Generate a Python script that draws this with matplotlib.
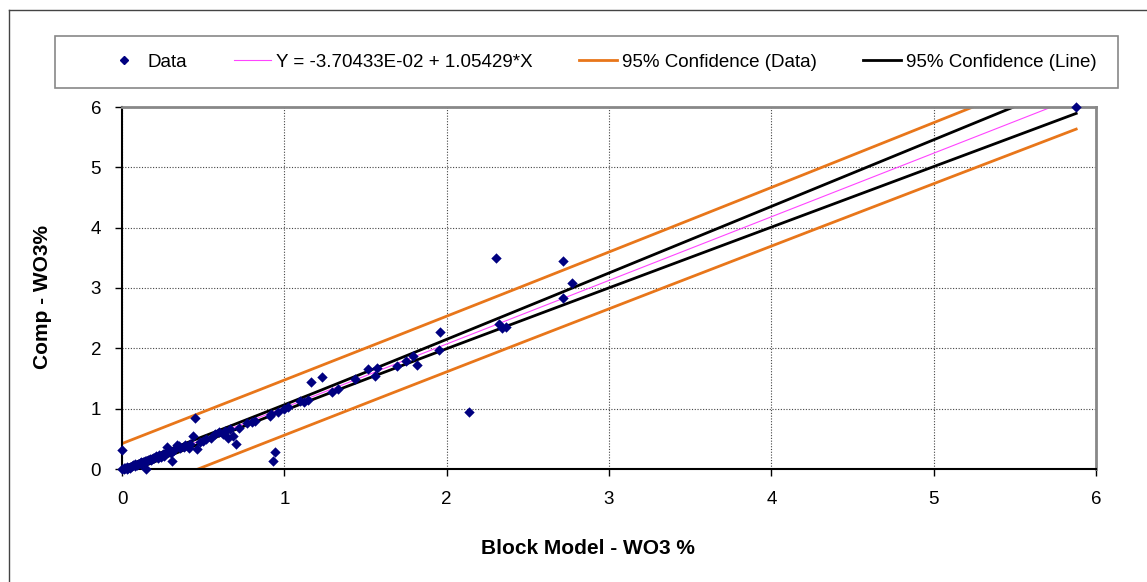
import numpy as np
import matplotlib.pyplot as plt
from matplotlib.lines import Line2D
from matplotlib.patches import Rectangle

plt.rcParams['font.family'] = ['Liberation Sans', 'DejaVu Sans']

# block model grade vs composite grade
block = [0.0, 0.0, 0.01, 0.01, 0.02, 0.03, 0.03, 0.04, 0.05, 0.05, 0.06, 0.07,
         0.08, 0.08, 0.09, 0.10, 0.11, 0.12, 0.12, 0.13, 0.14, 0.15, 0.15, 0.16,
         0.17, 0.18, 0.19, 0.20, 0.21, 0.22, 0.23, 0.24, 0.25, 0.26, 0.27, 0.28,
         0.29, 0.30, 0.31, 0.32, 0.34, 0.35, 0.36, 0.38, 0.39, 0.41, 0.42, 0.44,
         0.45, 0.46, 0.48, 0.50, 0.52,
         0.55, 0.57, 0.60, 0.62, 0.635, 0.655, 0.665, 0.686, 0.70, 0.72, 0.77,
         0.80, 0.82, 0.91, 0.92, 0.93, 0.943, 0.96, 1.0, 1.02,
         1.097, 1.12, 1.148, 1.165, 1.232, 1.292, 1.333, 1.437, 1.514, 1.569,
         1.56, 1.696, 1.748, 1.795, 1.82, 1.96, 1.953, 2.14, 2.306, 2.325,
         2.343, 2.368, 2.717, 2.717, 2.77, 5.878]
comp = [0.0, 0.31, 0.0, 0.02, 0.01, 0.0, 0.03, 0.02, 0.04, 0.01, 0.05, 0.06,
        0.05, 0.08, 0.07, 0.09, 0.10, 0.09, 0.12, 0.11, 0.13, 0.14, 0.0, 0.15,
        0.16, 0.15, 0.19, 0.18, 0.21, 0.19, 0.23, 0.20, 0.25, 0.22, 0.26, 0.36,
        0.30, 0.27, 0.13, 0.31, 0.40, 0.38, 0.35, 0.37, 0.39, 0.34, 0.41, 0.55,
        0.84, 0.33, 0.45, 0.47, 0.50,
        0.52, 0.575, 0.61, 0.58, 0.63, 0.51, 0.66, 0.55, 0.41, 0.68, 0.757,
        0.785, 0.80, 0.88, 0.906, 0.13, 0.277, 0.95, 1.0, 1.02,
        1.13, 1.105, 1.14, 1.45, 1.525, 1.28, 1.325, 1.49, 1.65, 1.68,
        1.54, 1.71, 1.79, 1.88, 1.72, 2.27, 1.97, 0.94, 3.49, 2.40,
        2.34, 2.36, 3.45, 2.84, 3.09, 6.0]

# regression from the legend
b0 = -3.70433e-02
b1 = 1.05429
t95 = 1.96

x = np.array(block)
y = np.array(comp)
n = len(x)
xm = x.mean()
sxx = ((x - xm) ** 2).sum()
s = np.sqrt(((y - (b0 + b1 * x)) ** 2).sum() / (n - 2))

xs = np.linspace(x.min(), x.max(), 200)
fit = b0 + b1 * xs
ci_line = t95 * s * np.sqrt(1.0 / n + (xs - xm) ** 2 / sxx)
ci_data = t95 * s * np.sqrt(1 + 1.0 / n + (xs - xm) ** 2 / sxx)

W, H = 1147, 582
fig = plt.figure(figsize=(W / 100, H / 100), dpi=100)
ax = fig.add_axes([122 / W, 1 - 469 / H, 974 / W, 362 / H])

orange = '#E8761A'
pink = '#FF44FF'
navy = '#000080'
ax.plot(xs, fit + ci_data, color=orange, lw=2)
ax.plot(xs, fit - ci_data, color=orange, lw=2)
ax.plot(xs, fit + ci_line, color='black', lw=2)
ax.plot(xs, fit - ci_line, color='black', lw=2)
ax.plot(xs, fit, color=pink, lw=0.8)
ax.scatter(x, y, marker='D', s=28, color=navy, zorder=5, clip_on=False,
           linewidths=0)

ax.set_xlim(0, 6)
ax.set_ylim(0, 6)
ax.set_xticks(range(7))
ax.set_yticks(range(7))
ax.grid(True, color='#444444', linestyle=(0, (1, 1.5)), lw=0.8)
ax.set_axisbelow(True)
ax.tick_params(labelsize=13.5, length=5, width=1)
ax.tick_params(axis='x', pad=11)
ax.tick_params(axis='y', pad=10)
ax.spines['left'].set_linewidth(1.5)
ax.spines['bottom'].set_linewidth(1.5)
for side in ['top', 'right']:
    ax.spines[side].set_color('#888888')
    ax.spines[side].set_linewidth(2)

fig.text(588 / W, 1 - 548 / H, 'Block Model - WO3 %', fontsize=15,
         fontweight='bold', ha='center', va='center')
fig.text(43 / W, 1 - 297 / H, 'Comp - WO3%', fontsize=15, fontweight='bold',
         ha='center', va='center', rotation=90)

# legend box
fig.add_artist(Rectangle((55 / W, 1 - 88 / H), 1063 / W, 52 / H,
                         transform=fig.transFigure, facecolor='white',
                         edgecolor='#888888', lw=1.2))
handles = [
    Line2D([], [], marker='D', ls='none', color=navy, markersize=4.5),
    Line2D([], [], color=pink, lw=0.8),
    Line2D([], [], color=orange, lw=2),
    Line2D([], [], color='black', lw=2),
]
labels = ['Data', 'Y = -3.70433E-02 + 1.05429*X', '95% Confidence (Data)',
          '95% Confidence (Line)']
fig.legend(handles, labels, loc='center left', ncol=4,
           bbox_to_anchor=(105 / W, 1 - 62 / H),
           fontsize=13.5, frameon=False, handlelength=2.0, handletextpad=0.25,
           columnspacing=2.5, borderpad=0, borderaxespad=0)

# outer chart border (left and top edges visible)
fig.add_artist(Line2D([9 / W, 9 / W], [0, 1 - 10 / H], color='#444444', lw=1))
fig.add_artist(Line2D([9 / W, 1], [1 - 10 / H, 1 - 10 / H], color='#444444', lw=1))

fig.savefig('out.png', dpi=100)
